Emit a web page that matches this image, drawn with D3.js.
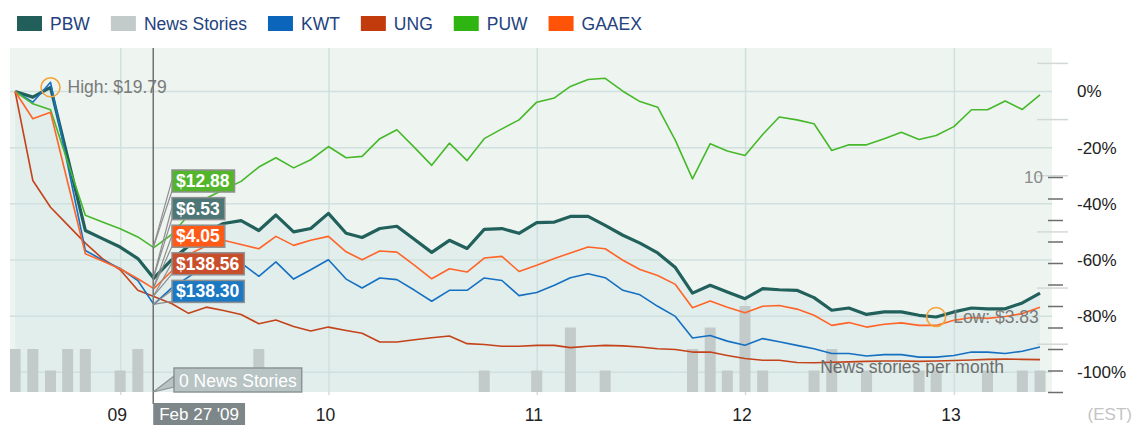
<!DOCTYPE html>
<html>
<head>
<meta charset="utf-8">
<script src="https://cdn.jsdelivr.net/npm/d3@7"></script>
<style>
  body { margin: 0; background: #fff; }
  svg { display: block; font-family: "Liberation Sans", Arial, Helvetica, sans-serif; }
</style>
</head>
<body>
<svg id="chart" width="1136" height="425"></svg>
<script>
// monthly closes as % change from the first month (Jun 2008 .. May 2013)
const pbw = [0, -2, 1.5, -23.5, -49.5, -52.4, -55.4, -59.5, -66.5, -60, -55, -50, -47, -46,
  -49.5, -44, -50, -48.8, -43.4, -50.5, -52, -48.8, -48, -52.7, -57.3, -53, -55.9, -49.1, -48.8, -50.5,
  -46.7, -46.5, -44.5, -44.5, -47.7, -51.2, -54, -57.5, -62.7, -71.8, -69, -71.4, -73.8, -70.2, -70.6,
  -70.8, -73.4, -77.9, -77.1, -79.4, -78.5, -78.5, -79.7, -80.3, -78.5, -77.1, -77.4, -77.4, -75.3, -71.8];
const kwt = [0, -3.8, 3.3, -26, -56.6, -60, -63, -67.3, -75.8, -70, -66, -62, -61, -61,
  -65.8, -60.7, -66.8, -63.5, -59.9, -66.8, -70, -66.4, -67, -70.8, -74.7, -70.8, -70.8, -66.4, -67.3, -72.7,
  -71.6, -69, -66.3, -64.9, -66.3, -70.8, -72.4, -76.5, -80.1, -87.8, -86.9, -88.9, -90.4, -88, -89.1,
  -90.4, -91.6, -93.3, -93.3, -94.2, -93.7, -93.7, -94.6, -94.6, -94, -92.8, -92.8, -93.3, -92.5, -91];
const ung = [0, -31.7, -41.2, -47.5, -54, -59.5, -63.5, -70.8, -73, -75.5, -79, -76.8, -78, -79.4,
  -82.7, -81.4, -83.7, -85.3, -83.9, -85.1, -86.1, -89.2, -89.2, -88.4, -87.7, -87.1, -89.8, -90.1, -90.7, -90.7,
  -90.4, -90.4, -91.2, -90.7, -90.4, -90.6, -91, -91.6, -91.9, -92.8, -92.8, -94, -95.1, -95.7, -95.7,
  -96.5, -96.6, -96.4, -96.3, -96.1, -96, -96, -96.1, -96, -95.8, -95.6, -95.4, -95.3, -95.4, -95.5];
const puw = [0, -4.4, -6.5, -25, -44.1, -46.5, -48.9, -51.8, -55.6, -51, -44, -38, -35, -32,
  -26.9, -23.6, -27.2, -24.3, -19.6, -23.6, -23.1, -16.8, -13.6, -20, -26.3, -18.4, -24.6, -16.8, -13.3, -10.1,
  -3.8, -2.3, 1.8, 4.3, 4.7, 0.1, -3.6, -5.6, -17.4, -31.1, -18.6, -21.2, -22.8, -15.3, -9.1,
  -10.1, -11.5, -21, -19, -19, -16.8, -14.5, -17.1, -15.7, -12.5, -6.5, -6.5, -3.4, -6.4, -1.2];
const gaaex = [0, -9.7, -7.4, -32.3, -57.8, -60.4, -63.1, -66.7, -70.2, -64, -58, -55, -53, -54.5,
  -56, -51.6, -54.8, -53, -51.6, -57.1, -59.9, -56.8, -57.2, -61.9, -66.7, -63.1, -64.3, -59.3, -58.7, -64.1,
  -61.9, -59.5, -57.5, -55.4, -56, -60.1, -63.4, -65.5, -68.7, -77, -74.6, -76.8, -78.8, -76.5, -76.2,
  -77.5, -79.7, -83.3, -82.3, -83.9, -82.9, -82.4, -83.3, -83.3, -81.5, -80.5, -80.8, -80.1, -79.1, -76.8];
const newsCounts = [2, 2, 1, 2, 2, 0, 1, 2, 0, 0, 0, 0, 0, 0,
  2, 0, 0, 0, 0, 0, 0, 0, 0, 0, 0, 0, 0, 1, 0, 0,
  1, 0, 3, 0, 1, 0, 0, 0, 0, 2, 3, 1, 4, 1, 0,
  0, 1, 2, 0, 1, 0, 0, 1, 1, 0, 0, 1, 0, 1, 1];

const legendNames = ["PBW", "News Stories", "KWT", "UNG", "PUW", "GAAEX"];
const legendColors = ["#225f5b", "#c2cbca", "#0b66bb", "#c23b0d", "#2fb512", "#ff5308"];
const pctTicks = [0, -20, -40, -60, -80, -100];
const pctMinor = [10, -10, -30, -50, -70, -90];
const hoverLabels = ["$12.88", "$6.53", "$4.05", "$138.56", "$138.30"];
const hoverFills = ["#52b52c", "#4d7676", "#ff5a16", "#c84f2c", "#1b79c3"];
const highText = "High: $19.79";
const lowText = "Low: $3.83";

const months = d3.timeMonth.range(new Date(2008, 6, 1), new Date(2013, 6, 1))
  .map(d => d3.timeDay.offset(d, -1));
const cursorDate = new Date(2009, 1, 27);
const cursorIdx = 8;

const svg = d3.select("#chart");
const plotL = 10, plotR = 1052, plotT = 48, plotB = 392;

const x = d3.scaleTime()
  .domain([new Date(2008, 5, 21), new Date(2013, 5, 21)])
  .range([plotL, plotR]);
const y = d3.scaleLinear().domain([0, -100]).range([91.5, 372.3]);
const yNews = d3.scaleLinear().domain([0, 10]).range([plotB, 177]);

// plot background
svg.append("rect")
  .attr("x", plotL).attr("y", plotT)
  .attr("width", plotR - plotL).attr("height", plotB - plotT)
  .attr("fill", "#eef5f1");

// shaded area under PBW
svg.append("path")
  .datum(pbw)
  .attr("fill", "#e1eeeb")
  .attr("d", d3.area()
    .x((d, i) => x(months[i]))
    .y0(plotB)
    .y1(d => y(d)));

// grid
svg.append("g").selectAll("line")
  .data(pctTicks)
  .join("line")
  .attr("x1", plotL).attr("x2", plotR)
  .attr("y1", d => y(d)).attr("y2", d => y(d))
  .attr("stroke", "#cfe0de").attr("stroke-width", 1.5);

svg.append("g").selectAll("line")
  .data(x.ticks(d3.timeYear))
  .join("line")
  .attr("x1", d => x(d)).attr("x2", d => x(d))
  .attr("y1", plotT).attr("y2", plotB + 3)
  .attr("stroke", "#cfe0de").attr("stroke-width", 1.5);

// news bars
svg.append("g").selectAll("rect")
  .data(newsCounts.map((c, i) => ({ c, d: months[i] })).filter(o => o.c > 0))
  .join("rect")
  .attr("x", o => Math.max(plotL, x(o.d) - 5.5))
  .attr("width", o => x(o.d) + 5.5 - Math.max(plotL, x(o.d) - 5.5))
  .attr("y", o => yNews(o.c))
  .attr("height", o => plotB - yNews(o.c))
  .attr("fill", "#c2cbca");

// lines
const line = d3.line().x((d, i) => x(months[i])).y(d => y(d));
const series = [
  { v: pbw, c: "#22605b", w: 3.2 },
  { v: ung, c: "#c4431a", w: 1.6 },
  { v: kwt, c: "#1670c2", w: 1.6 },
  { v: puw, c: "#46b82a", w: 1.6 },
  { v: gaaex, c: "#ff6428", w: 1.6 }
];
svg.append("g").selectAll("path")
  .data(series)
  .join("path")
  .attr("fill", "none")
  .attr("stroke", s => s.c)
  .attr("stroke-width", s => s.w)
  .attr("stroke-linejoin", "round")
  .attr("d", s => line(s.v));

// right percent axis
svg.append("g").selectAll("line")
  .data(pctMinor)
  .join("line")
  .attr("x1", 1037).attr("x2", 1068)
  .attr("y1", d => y(d)).attr("y2", d => y(d))
  .attr("stroke", "#d2d8d8").attr("stroke-width", 1.5);

const pctAxis = svg.append("g")
  .attr("transform", "translate(1077,0)")
  .call(d3.axisRight(y).tickValues(pctTicks).tickFormat(d => d + "%").tickSize(0).tickPadding(0));
pctAxis.select(".domain").remove();
pctAxis.selectAll("text")
  .attr("font-size", 17).attr("fill", "#222").attr("font-family", null);

// news axis
const newsAxis = svg.append("g")
  .attr("transform", "translate(1063,0)")
  .call(d3.axisLeft(yNews).tickValues(d3.range(0, 11)).tickSize(15).tickPadding(5)
    .tickFormat(d => d === 10 ? "10" : ""));
newsAxis.select(".domain").remove();
newsAxis.selectAll("line").attr("stroke", "#6d6d6d").attr("stroke-width", 1.5);
newsAxis.selectAll("text").attr("font-size", 17).attr("fill", "#8a8a8a").attr("font-family", null);

// x axis
const xAxis = svg.append("g")
  .attr("transform", `translate(-4,${plotB + 17})`)
  .call(d3.axisBottom(x).ticks(d3.timeYear).tickFormat(d3.timeFormat("%y")).tickSize(0).tickPadding(0));
xAxis.select(".domain").remove();
xAxis.selectAll("text").attr("font-size", 17.5).attr("fill", "#222").attr("font-family", null);

svg.append("text")
  .attr("x", 1132).attr("y", 420)
  .attr("text-anchor", "end")
  .attr("font-size", 17)
  .attr("fill", "#c4c4c4")
  .text("(EST)");

svg.append("text")
  .attr("x", 1004).attr("y", 373)
  .attr("text-anchor", "end")
  .attr("font-size", 17.5)
  .attr("fill", "#6e6e6e")
  .text("News stories per month");

// high / low markers
const hiIdx = d3.maxIndex(pbw), loIdx = d3.minIndex(pbw);
[[hiIdx, highText], [loIdx, lowText]].forEach(([i, t]) => {
  svg.append("circle")
    .attr("cx", x(months[i])).attr("cy", y(pbw[i])).attr("r", 9.5)
    .attr("fill", "none").attr("stroke", "#f4a43a").attr("stroke-width", 1.6);
  svg.append("text")
    .attr("x", x(months[i]) + 17).attr("y", y(pbw[i]) + 6)
    .attr("font-size", 17.5)
    .attr("fill", "#7a7a7a")
    .text(t);
});

// cursor
const cx = x(cursorDate);
svg.append("line")
  .attr("x1", cx).attr("x2", cx)
  .attr("y1", plotT).attr("y2", 404)
  .attr("stroke", "#707070").attr("stroke-width", 1.5);

// value callouts at cursor
const callSeries = [puw, pbw, gaaex, ung, kwt];
const boxX = 172, boxH = 22;
hoverLabels.forEach((t, k) => {
  const by = 170 + k * 27.6;
  const py = y(callSeries[k][cursorIdx]);
  const g = svg.append("g");
  g.append("line").attr("x1", cx).attr("y1", py).attr("x2", boxX).attr("y2", by + boxH * 0.45)
    .attr("stroke", "#8d8d8d").attr("stroke-width", 1.2);
  g.append("line").attr("x1", cx).attr("y1", py).attr("x2", boxX).attr("y2", by + boxH - 1)
    .attr("stroke", "#8d8d8d").attr("stroke-width", 1.2);
  const rect = g.append("rect")
    .attr("x", boxX).attr("y", by).attr("height", boxH)
    .attr("fill", hoverFills[k]).attr("stroke", "#8f8f8f").attr("stroke-width", 1.5);
  const txt = g.append("text")
    .attr("x", boxX + 4).attr("y", by + boxH / 2 + 6)
    .attr("font-size", 17.5).attr("font-weight", "bold")
    .attr("fill", "#fff")
    .text(t);
  rect.attr("width", txt.node().getComputedTextLength() + 9);
});

// news callout
const ng = svg.append("g");
ng.append("path")
  .attr("d", `M${cx},${plotB} L${174},${376} L${174},${387} Z`)
  .attr("fill", "#b8c3c3").attr("stroke", "#8d9494").attr("stroke-width", 1.2);
const nrect = ng.append("rect")
  .attr("x", 174).attr("y", 368).attr("height", 24)
  .attr("fill", "#b8c3c3").attr("stroke", "#8d9494").attr("stroke-width", 1.5);
const ntxt = ng.append("text")
  .attr("x", 179).attr("y", 386.5)
  .attr("font-size", 17.5).attr("fill", "#fff")
  .text(newsCounts[cursorIdx] + " News Stories");
nrect.attr("width", ntxt.node().getComputedTextLength() + 10);

// date callout
const dg = svg.append("g");
const drect = dg.append("rect")
  .attr("x", cx).attr("y", 403).attr("height", 26)
  .attr("fill", "#7d8689");
const dtxt = dg.append("text")
  .attr("x", cx + 6).attr("y", 420)
  .attr("font-size", 17).attr("fill", "#fff")
  .text(d3.timeFormat("%b %d '%y")(cursorDate));
drect.attr("width", dtxt.node().getComputedTextLength() + 12);

// legend
let lx = 17;
legendNames.forEach((n, i) => {
  svg.append("rect")
    .attr("x", lx).attr("y", 16).attr("width", 25).attr("height", 15)
    .attr("fill", legendColors[i]);
  const t = svg.append("text")
    .attr("x", lx + 33).attr("y", 29.5)
    .attr("font-size", 17.5).attr("fill", "#23427e")
    .text(n);
  lx += 33 + t.node().getComputedTextLength() + 21;
});
</script>
</body>
</html>
